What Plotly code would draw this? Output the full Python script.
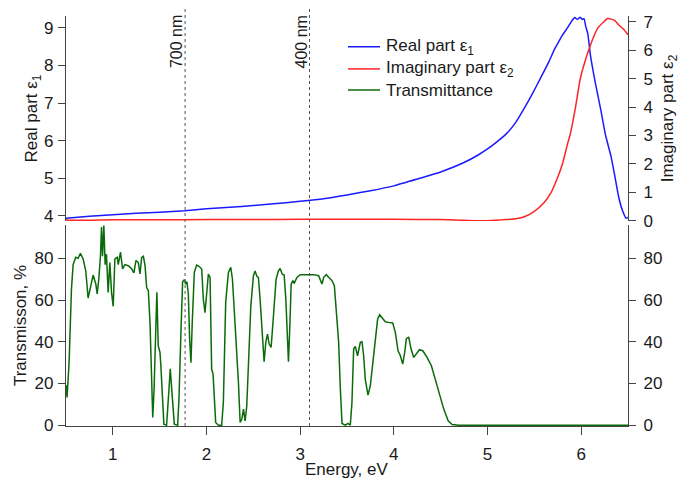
import plotly.graph_objects as go

# Real part of the dielectric function
energy_eps1 = [0.50, 0.75, 1.00, 1.25, 1.50, 1.77, 2.00, 2.25, 2.50, 2.75, 3.00, 3.25,
               3.50, 3.75, 4.00, 4.25, 4.50, 4.75, 4.90, 5.00, 5.10, 5.20, 5.30, 5.39,
               5.48, 5.57, 5.66, 5.72, 5.75, 5.80, 5.85, 5.88, 5.90, 5.93, 5.96, 5.99,
               6.01, 6.03, 6.05, 6.07, 6.10, 6.15, 6.21, 6.26, 6.32, 6.36, 6.40, 6.44,
               6.48, 6.50]
eps1 = [3.94, 3.99, 4.03, 4.07, 4.10, 4.14, 4.19, 4.23, 4.28, 4.33, 4.39, 4.46,
        4.56, 4.67, 4.80, 4.98, 5.17, 5.42, 5.62, 5.78, 5.97, 6.18, 6.48, 6.85,
        7.25, 7.68, 8.12, 8.45, 8.58, 8.80, 8.98, 9.10, 9.18, 9.27, 9.22, 9.28,
        9.22, 9.24, 9.02, 8.85, 8.25, 7.55, 6.81, 6.15, 5.57, 5.05, 4.51, 4.15,
        3.94, 3.96]

# Imaginary part of the dielectric function
energy_eps2 = [0.50, 0.52, 1.00, 1.50, 2.00, 2.50, 3.00, 3.50, 4.00, 4.50, 4.80, 5.00,
               5.20, 5.30, 5.40, 5.50, 5.60, 5.68, 5.74, 5.80, 5.85, 5.88, 5.94, 5.99,
               6.04, 6.08, 6.13, 6.18, 6.24, 6.28, 6.32, 6.36, 6.40, 6.45, 6.50]
eps2 = [0.05, 0.02, 0.03, 0.03, 0.04, 0.04, 0.05, 0.05, 0.05, 0.04, 0.01, 0.00,
        0.04, 0.07, 0.15, 0.33, 0.62, 1.00, 1.45, 2.00, 2.65, 3.00, 4.00, 5.00,
        5.60, 6.00, 6.45, 6.80, 7.00, 7.12, 7.10, 7.05, 6.90, 6.75, 6.55]

# Transmission spectrum
energy_T = [0.500, 0.511, 0.533, 0.558, 0.576, 0.604, 0.629, 0.654, 0.683, 0.711, 0.736,
            0.761, 0.790, 0.818, 0.833, 0.850, 0.868, 0.879, 0.890, 0.904, 0.918, 0.932,
            0.950, 0.968, 0.986, 1.004, 1.022, 1.047, 1.058, 1.082, 1.104, 1.129, 1.165,
            1.200, 1.225, 1.247, 1.272, 1.290, 1.308, 1.326, 1.344, 1.361, 1.379, 1.397,
            1.415, 1.426, 1.440, 1.461, 1.470, 1.485, 1.503, 1.513, 1.528, 1.545, 1.574,
            1.592, 1.599, 1.613, 1.627, 1.645, 1.656, 1.692, 1.706, 1.727, 1.745, 1.763,
            1.777, 1.791, 1.806, 1.820, 1.834, 1.848, 1.870, 1.895, 1.920, 1.949, 1.966,
            1.984, 2.002, 2.020, 2.038, 2.055, 2.070, 2.084, 2.098, 2.127, 2.162, 2.180,
            2.205, 2.234, 2.259, 2.277, 2.294, 2.305, 2.323, 2.341, 2.359, 2.377, 2.395,
            2.412, 2.430, 2.448, 2.473, 2.501, 2.519, 2.537, 2.554, 2.572, 2.590, 2.615,
            2.633, 2.651, 2.669, 2.690, 2.715, 2.743, 2.768, 2.786, 2.808, 2.829, 2.847,
            2.865, 2.875, 2.890, 2.904, 2.922, 2.936, 2.965, 3.001, 3.072, 3.143, 3.197,
            3.215, 3.233, 3.251, 3.279, 3.304, 3.340, 3.365, 3.386, 3.411, 3.429, 3.447,
            3.483, 3.510, 3.535, 3.553, 3.571, 3.588, 3.613, 3.642, 3.660, 3.678, 3.695,
            3.724, 3.749, 3.774, 3.802, 3.827, 3.849, 3.874, 3.909, 3.945, 3.988, 4.016,
            4.045, 4.070, 4.095, 4.116, 4.134, 4.159, 4.184, 4.213, 4.238, 4.273, 4.309,
            4.355, 4.401, 4.444, 4.487, 4.533, 4.580, 4.622, 4.693, 5.000, 5.500, 6.000,
            6.500]
transmission = [19.2, 13.3, 30.0, 65.0, 77.0, 80.5, 80.0, 82.4, 79.7, 74.0, 61.0,
                67.0, 72.0, 67.7, 63.0, 70.0, 81.0, 95.0, 81.0, 95.7, 77.0, 82.0,
                63.7, 78.0, 63.7, 57.0, 79.7, 80.5, 77.0, 83.0, 75.0, 77.0, 76.5,
                75.0, 73.0, 79.0, 78.0, 72.5, 80.5, 81.0, 76.5, 66.0, 64.5, 49.0,
                14.0, 3.7, 17.0, 55.7, 63.7, 38.0, 35.0, 28.5, 12.5, 0.5, 0.0,
                15.7, 17.0, 27.0, 19.0, 7.7, 0.5, 0.0, 12.5, 44.5, 68.8, 69.8,
                67.7, 68.8, 62.9, 41.3, 30.0, 49.3, 73.3, 76.8, 76.2, 74.9, 60.5,
                54.0, 62.9, 72.5, 70.9, 26.9, 24.5, 14.0, 1.3, 0.0, 0.0, 11.0,
                59.0, 73.3, 75.7, 70.0, 56.5, 54.0, 39.7, 20.5, 1.3, 2.9, 7.7,
                2.0, 9.3, 28.5, 57.0, 71.7, 74.0, 71.4, 70.9, 60.5, 46.0, 30.4,
                39.7, 43.7, 38.9, 37.3, 52.5, 70.0, 74.0, 75.2, 72.5, 72.0, 60.5,
                41.3, 30.4, 47.7, 67.7, 69.3, 68.0, 70.9, 72.2, 72.2, 72.2, 71.7,
                70.0, 67.7, 70.9, 72.2, 70.9, 69.3, 66.9, 52.5, 39.7, 17.3, 0.8,
                0.0, 0.8, 0.0, 10.9, 36.5, 37.8, 33.3, 39.7, 40.0, 33.3, 22.0,
                14.4, 18.9, 30.0, 42.9, 50.9, 53.0, 51.7, 49.6, 49.3, 49.0, 44.5,
                35.7, 33.3, 29.3, 34.9, 41.6, 42.1, 36.5, 32.5, 34.1, 36.2, 35.7,
                32.5, 28.5, 22.0, 15.7, 7.7, 2.1, 0.3, 0.0, 0.0, 0.0, 0.0,
                0.0]

# Wavelength markers (nm) shown as vertical guides
marker_nm = [700, 400]
marker_labels = ["700 nm", "400 nm"]

x_ticks = [1, 2, 3, 4, 5, 6]
eps1_ticks = [4, 5, 6, 7, 8, 9]
eps2_ticks = [0, 1, 2, 3, 4, 5, 6, 7]
trans_ticks = [0, 20, 40, 60, 80]

series_names = ["Real part ε<sub>1</sub>", "Imaginary part ε<sub>2</sub>", "Transmittance"]
series_colors = ["#1a1aff", "#ff2525", "#0b6b0b"]

FONT = "Liberation Sans, Arial, sans-serif"
AX_COLOR = "#444444"
TXT = "#1a1a1a"
FS = 17

fig = go.Figure()
fig.add_trace(go.Scatter(x=energy_eps1, y=eps1, mode="lines", name=series_names[0],
                         line=dict(color=series_colors[0], width=1.5, shape="spline", smoothing=0.5),
                         xaxis="x", yaxis="y"))
fig.add_trace(go.Scatter(x=energy_eps2, y=eps2, mode="lines", name=series_names[1],
                         line=dict(color=series_colors[1], width=1.5, shape="spline", smoothing=0.5),
                         xaxis="x", yaxis="y2"))
fig.add_trace(go.Scatter(x=energy_T, y=transmission, mode="lines", name=series_names[2],
                         line=dict(color=series_colors[2], width=1.5),
                         xaxis="x", yaxis="y3"))
fig.add_trace(go.Scatter(x=[None], y=[None], mode="lines", showlegend=False,
                         hoverinfo="skip", xaxis="x", yaxis="y4"))

common = dict(showline=True, linecolor=AX_COLOR, linewidth=1.3, ticks="outside",
              ticklen=7, tickwidth=1.3, tickcolor=AX_COLOR, showgrid=False,
              zeroline=False, ticklabelstandoff=4, automargin=False,
              tickfont=dict(size=FS, color=TXT, family=FONT),
              title_font=dict(size=FS, color=TXT, family=FONT))
left = {**common, "ticklabelstandoff": 1}

fig.update_layout(
    width=680, height=480,
    margin=dict(l=66, r=52, t=16, b=54, autoexpand=False),
    paper_bgcolor="white", plot_bgcolor="white",
    font=dict(family=FONT, size=FS, color=TXT),
    showlegend=False,
    xaxis=dict(domain=[0, 1], range=[0.5, 6.5], anchor="y3", tickvals=x_ticks,
               **{**common, "ticklen": 8}),
    yaxis=dict(domain=[0.5, 1], range=[3.867, 9.31], anchor="x", tickvals=eps1_ticks,
               title=dict(text="Real part ε<sub>1</sub>", standoff=1), **left),
    yaxis2=dict(overlaying="y", side="right", range=[-0.01, 7.21], anchor="x",
                tickvals=eps2_ticks,
                title=dict(text="Imaginary part ε<sub>2</sub>", standoff=13), **common),
    yaxis3=dict(domain=[0, 0.4902], range=[-0.4, 96], anchor="x", tickvals=trans_ticks,
                title=dict(text="Transmisson, %", standoff=3), **left),
    yaxis4=dict(overlaying="y3", side="right", range=[-0.4, 96], anchor="x",
                tickvals=trans_ticks, **common),
)

# Energy axis title, set a little lower than the default title slot
fig.add_annotation(x=0.5, y=-0.105, xref="paper", yref="paper", text="Energy, eV",
                   showarrow=False, xanchor="center", yanchor="middle",
                   font=dict(size=FS, color=TXT, family=FONT))

# Vertical guides at fixed wavelengths
for nm, label in zip(marker_nm, marker_labels):
    e = 1239.84 / nm
    fig.add_shape(type="line", xref="x", yref="paper", x0=e, x1=e, y0=0, y1=1.0195,
                  line=dict(color="#555555", width=1, dash="dot"))
    fig.add_annotation(x=e, y=0.9366, xref="x", yref="paper", text=label, textangle=-90,
                       showarrow=False, xanchor="center", yanchor="middle", xshift=-8,
                       font=dict(size=16, color=TXT, family=FONT))

# Key: line sample followed by the series name
key_rows = [0.925, 0.871, 0.8195]
for name, color, ky in zip(series_names, series_colors, key_rows):
    fig.add_shape(type="line", xref="paper", yref="paper", x0=0.5018, x1=0.5587,
                  y0=ky, y1=ky, line=dict(color=color, width=1.5))
    fig.add_annotation(x=0.5712, y=ky, xref="paper", yref="paper", text=name,
                       showarrow=False, xanchor="left", yanchor="middle", xshift=-3,
                       font=dict(size=FS, color=TXT, family=FONT))

fig.write_html("out.html")
